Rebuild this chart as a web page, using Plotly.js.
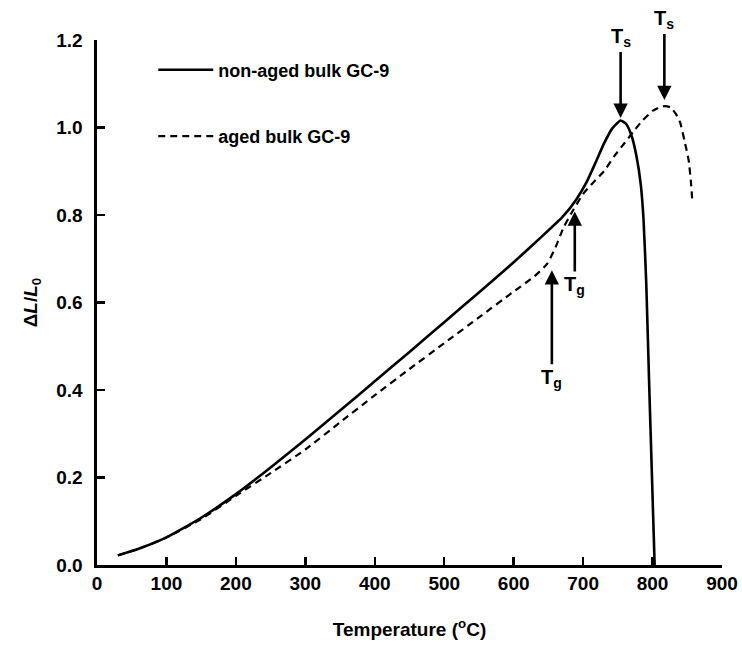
<!DOCTYPE html>
<html>
<head>
<meta charset="utf-8">
<script src="https://cdn.plot.ly/plotly-3.0.1.min.js"></script>
<style>html,body{margin:0;padding:0;background:#fff;}#chart{width:742px;height:650px;}</style>
</head>
<body>
<div id="chart"></div>
<script>
// Non-aged bulk GC-9 (solid)
const tempNonAged = [30, 60, 100, 150, 200, 250, 300, 350, 400, 450, 500, 550, 600, 640, 670, 690, 705, 718, 730, 742, 754, 762, 770, 777, 783, 787, 791, 795, 799, 803];
const dlNonAged   = [0.022, 0.037, 0.063, 0.108, 0.162, 0.223, 0.287, 0.353, 0.42, 0.487, 0.555, 0.623, 0.692, 0.75, 0.795, 0.835, 0.875, 0.92, 0.963, 0.998, 1.016, 1.008, 0.98, 0.933, 0.87, 0.79, 0.64, 0.42, 0.21, 0.0];

// Aged bulk GC-9 (dashed)
const tempAged = [30, 60, 100, 150, 200, 250, 300, 350, 400, 450, 500, 550, 600, 630, 648, 660, 672, 686, 700, 715, 730, 746, 760, 772, 785, 800, 810, 818, 826, 834, 840, 846, 852, 855, 857];
const dlAged   = [0.022, 0.037, 0.063, 0.105, 0.158, 0.21, 0.264, 0.326, 0.388, 0.448, 0.507, 0.566, 0.625, 0.66, 0.688, 0.725, 0.772, 0.812, 0.848, 0.875, 0.9, 0.937, 0.965, 0.99, 1.015, 1.038, 1.046, 1.049, 1.046, 1.03, 1.01, 0.97, 0.925, 0.88, 0.838];

const seriesNames = ["non-aged bulk GC-9", "aged bulk GC-9"];
const xTicks = [0, 100, 200, 300, 400, 500, 600, 700, 800, 900];
const yTicks = [0.0, 0.2, 0.4, 0.6, 0.8, 1.0, 1.2];

// Marker annotations: [temperature, ΔL/L0 at arrow tip, label, pixel offset of label]
const markTemps = [754, 817, 655, 688];
const markVals  = [1.022, 1.063, 0.674, 0.808];
const markLabels = ["T<sub>s</sub>", "T<sub>s</sub>", "T<sub>g</sub>", "T<sub>g</sub>"];
const markOffsets = [-80, -80, 108, 74];

const font = {family: "Liberation Sans, Arial, sans-serif", color: "#000", weight: "bold"};

const traces = [
  {x: tempNonAged, y: dlNonAged, name: seriesNames[0], mode: "lines", legendgroup: "a",
   line: {color: "#000", width: 2.6, dash: "solid", shape: "spline", smoothing: 0.5}},
  {x: tempAged, y: dlAged, name: seriesNames[1], mode: "lines", legendgroup: "b",
   line: {color: "#000", width: 2.2, dash: "7px,5px", shape: "spline", smoothing: 0.5}}
];

const annotations = markTemps.map((t, i) => ({
  x: t, y: markVals[i], xref: "x", yref: "y",
  text: markLabels[i], showarrow: true, ax: 0, ay: markOffsets[i],
  arrowhead: 2, arrowsize: 1.1, arrowwidth: 2.6, arrowcolor: "#000",
  font: Object.assign({}, font, {size: 20})
}));

const layout = {
  width: 742, height: 650,
  margin: {l: 97, r: 20, t: 40, b: 85},
  paper_bgcolor: "#fff", plot_bgcolor: "#fff",
  font: Object.assign({}, font, {size: 17}),
  showlegend: true,
  legend: {x: 0.09, y: 0.978, xanchor: "left", yanchor: "top", bgcolor: "rgba(0,0,0,0)",
           traceorder: "grouped", tracegroupgap: 40, itemwidth: 55,
           font: Object.assign({}, font, {size: 18})},
  xaxis: {range: [0, 900], tickvals: xTicks, ticktext: xTicks.map(String),
          showline: true, linewidth: 2.6, linecolor: "#000", mirror: false,
          ticks: "inside", ticklen: 8, tickwidth: 2.4, tickcolor: "#000",
          showgrid: false, zeroline: false,
          tickfont: Object.assign({}, font, {size: 19}),
          title: {text: "Temperature (<sup>o</sup>C)", standoff: 30, font: Object.assign({}, font, {size: 19})}},
  yaxis: {range: [0, 1.2], tickvals: yTicks, ticktext: yTicks.map(v => v.toFixed(1)),
          showline: true, linewidth: 2.6, linecolor: "#000", mirror: false,
          ticks: "inside", ticklen: 8, tickwidth: 2.4, tickcolor: "#000",
          ticklabelstandoff: 8,
          showgrid: false, zeroline: false,
          tickfont: Object.assign({}, font, {size: 19}),
          title: {text: "Δ<i>L</i>/<i>L</i><sub>0</sub>", standoff: 14, font: Object.assign({}, font, {size: 19})}},
  annotations: annotations
};

Plotly.newPlot("chart", traces, layout, {displayModeBar: false, staticPlot: true});
</script>
</body>
</html>
